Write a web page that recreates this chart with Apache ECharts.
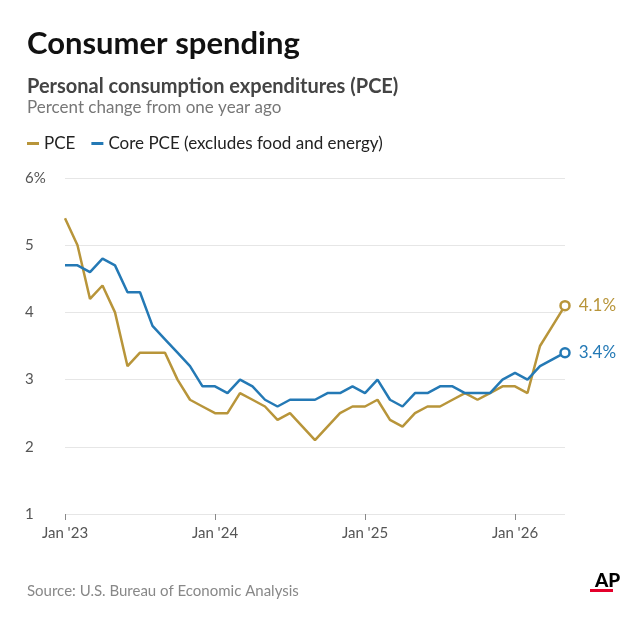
<!DOCTYPE html><html><head><meta charset="utf-8">
<script src="https://cdn.jsdelivr.net/npm/echarts@6/dist/echarts.min.js"></script>
<style>body{margin:0;background:#fff}#c{width:640px;height:621px}</style></head><body><div id="c"></div><script>
const months=[];const mn=['Jan','Feb','Mar','Apr','May','Jun','Jul','Aug','Sep','Oct','Nov','Dec'];
for(let y=23;y<=26;y++)for(let m=0;m<12;m++){if(y===26&&m>4)break;months.push(mn[m]+" '"+y);}
const pce=[5.4,5.0,4.2,4.4,4.0,3.2,3.4,3.4,3.4,3.0,2.7,2.6,2.5,2.5,2.8,2.7,2.6,2.4,2.5,2.3,2.1,2.3,2.5,2.6,2.6,2.7,2.4,2.3,2.5,2.6,2.6,2.7,2.8,2.7,2.8,2.9,2.9,2.8,3.5,3.8,4.1];
const core=[4.7,4.7,4.6,4.8,4.7,4.3,4.3,3.8,3.6,3.4,3.2,2.9,2.9,2.8,3.0,2.9,2.7,2.6,2.7,2.7,2.7,2.8,2.8,2.9,2.8,3.0,2.7,2.6,2.8,2.8,2.9,2.9,2.8,2.8,2.8,3.0,3.1,3.0,3.2,3.3,3.4];
const yTicks=[1,2,3,4,5,6];
const gold='#B8953A',blue='#2479B5',F='Lato';
function mk(arr,col,name){return{name,type:'line',data:arr.map((v,i)=>i===arr.length-1?{value:v,symbol:'circle',symbolSize:9,label:{show:true,position:'right',distance:8,formatter:'{c}%',color:col,fontSize:17,fontFamily:F}}:v),
symbol:'none',showAllSymbol:true,lineStyle:{color:col,width:2.5},itemStyle:{color:'#fff',borderColor:col,borderWidth:2.5},color:col};}
const ch=echarts.init(document.getElementById('c'));
ch.setOption({animation:false,
title:[{text:'Consumer spending',left:22,top:23,textStyle:{fontFamily:F,fontWeight:'bold',fontSize:31,color:'#111'}},
{text:'Personal consumption expenditures (PCE)',left:22,top:72,textStyle:{fontFamily:F,fontWeight:'bold',fontSize:20,color:'#444'}},
{text:'Percent change from one year ago',left:22,top:94,textStyle:{fontFamily:F,fontWeight:'normal',fontSize:17,color:'#777'}},
{text:'Source: U.S. Bureau of Economic Analysis',left:22,top:579,textStyle:{fontFamily:F,fontWeight:'normal',fontSize:15,color:'#888'}},
{text:'AP',left:590,top:566,textStyle:{fontFamily:F,fontWeight:'900',fontSize:19,color:'#000'}}],
graphic:[{type:'rect',shape:{x:590,y:589,width:23,height:3},style:{fill:'#e4002b'}}],
legend:{left:22,top:130,itemWidth:12,itemHeight:3,itemGap:16,icon:'rect',itemStyle:{borderWidth:0},textStyle:{fontFamily:F,fontSize:17,color:'#222'},
data:[{name:'PCE',itemStyle:{color:gold}},{name:'Core PCE (excludes food and energy)',itemStyle:{color:blue}}]},
grid:{left:65,right:75,top:178,bottom:107},
xAxis:{type:'category',data:months,boundaryGap:false,axisLine:{show:false},
axisTick:{show:true,interval:(i)=>i%12===0,length:6,lineStyle:{color:'#888'}},
axisLabel:{interval:(i)=>i%12===0,fontFamily:F,fontSize:15,color:'#555',margin:12}},
yAxis:{type:'value',min:1,max:6,interval:1,splitLine:{lineStyle:{color:'#e6e6e6'}},
axisLabel:{formatter:v=>v===6?'6%':String(v),align:'left',margin:40,fontFamily:F,fontSize:15,color:'#555'}},
series:[mk(pce,gold,'PCE'),mk(core,blue,'Core PCE (excludes food and energy)')]});
</script></body></html>
